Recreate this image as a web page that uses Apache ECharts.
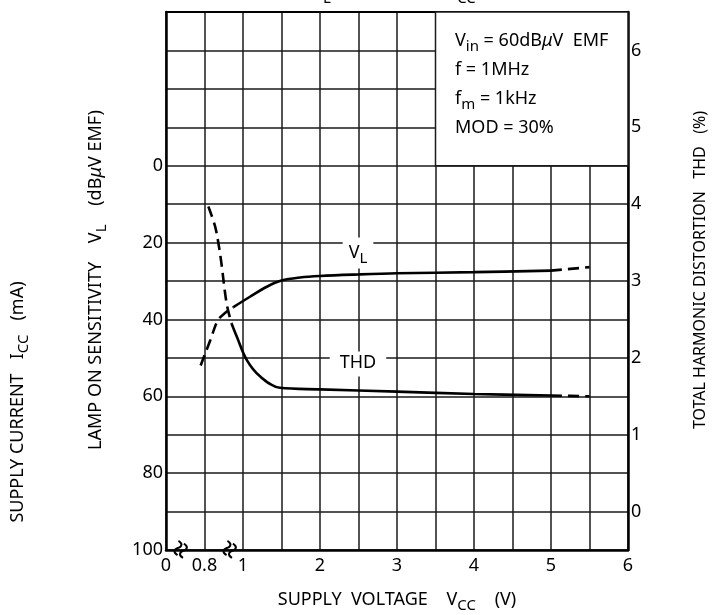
<!DOCTYPE html>
<html><head><meta charset="utf-8">
<script src="https://cdn.jsdelivr.net/npm/echarts@6/dist/echarts.min.js"></script>
<style>html,body{margin:0;padding:0;background:#fff}#c{width:722px;height:615px}</style>
</head><body><div id="c"></div>
<script>
// ---- data ----
const xTickVolts = [0, 0.8, 1, 2, 3, 4, 5, 6];
const xTickText = ['0', '0.8', '1', '2', '3', '4', '5', '6'];
const leftTicks = [0, 20, 40, 60, 80, 100];
const rightTicks = [0, 1, 2, 3, 4, 5, 6];

const vlVolt = [0.78, 0.83, 0.87, 0.91, 0.95, 1.09, 1.31, 1.5, 1.74, 2, 2.5, 3, 4, 5, 5.5];
const vlDb   = [52, 45.4, 40.2, 38.2, 36.8, 34.1, 31.5, 29.9, 29.1, 28.7, 28.3, 28.0, 27.7, 27.3, 26.4];
const vlSolidFrom = 4, vlSolidTo = 13;

const thdVolt = [0.82, 0.855, 0.875, 0.89, 0.905, 0.918, 0.94, 0.967, 1.05, 1.22, 1.48, 2, 3, 4, 5, 5.5];
const thdPct  = [3.97, 3.71, 3.45, 3.19, 2.88, 2.67, 2.45, 2.28, 1.97, 1.76, 1.61, 1.59, 1.56, 1.53, 1.51, 1.5];
const thdSolidFrom = 6, thdSolidTo = 14;

// broken voltage axis: 0 | 0.8 .. 1 (one cell) | 1 .. 6 (two cells per volt)
function xPos(v) {
  if (v === 0) return 0;
  if (v < 1) return 1 + (v - 0.8) / 0.2;
  return 2 + (v - 1) * 2;
}
const xLabelMap = {};
xTickVolts.forEach((v, i) => { xLabelMap[xPos(v)] = xTickText[i]; });

function pts(xs, ys, a, b) {
  const out = [];
  for (let i = a; i <= b; i++) out.push([xPos(xs[i]), ys[i]]);
  return out;
}

const FONT = 'Noto Sans';
const gridLine = { lineStyle: { color: '#1a1a1a', width: 1.5 } };
const curve = (data, dashed, yIdx) => ({
  type: 'line', data, yAxisIndex: yIdx, xAxisIndex: 0, symbol: 'none', smooth: 0.35,
  silent: true, z: 5,
  lineStyle: { color: '#000', width: 2.6, type: dashed ? [11, 6] : 'solid' }
});

const chart = echarts.init(document.getElementById('c'), null, { renderer: 'canvas' });
chart.setOption({
  animation: false,
  backgroundColor: '#fff',
  grid: { left: 166, right: 94, top: 12, bottom: 65 },
  xAxis: [
    { type: 'value', min: 0, max: 12, interval: 1, position: 'bottom',
      axisLine: { show: true, onZero: false, lineStyle: { color: '#000', width: 2.5 } },
      axisTick: { show: false },
      axisLabel: { margin: 7, color: '#000', fontFamily: FONT, fontSize: 18,
        formatter: v => (xLabelMap[v] !== undefined ? xLabelMap[v] : '') },
      splitLine: { show: true, ...gridLine } },
    { type: 'value', min: 0, max: 12, interval: 1, position: 'top',
      axisLine: { show: true, onZero: false, lineStyle: { color: '#000', width: 2 } },
      axisTick: { show: false }, axisLabel: { show: false },
      splitLine: { show: false } }
  ],
  yAxis: [
    { type: 'value', min: -40, max: 100, interval: 10, inverse: true, position: 'left',
      axisLine: { show: true, onZero: false, lineStyle: { color: '#000', width: 2.5 } },
      axisTick: { show: false },
      axisLabel: { margin: 3, color: '#000', fontFamily: FONT, fontSize: 18,
        formatter: v => (leftTicks.indexOf(v) >= 0 ? String(v) : '') },
      splitLine: { show: true, ...gridLine } },
    { type: 'value', min: -0.5, max: 6.5, interval: 0.5, position: 'right',
      axisLine: { show: true, onZero: false, lineStyle: { color: '#000', width: 2.5 } },
      axisTick: { show: false },
      axisLabel: { margin: 3, color: '#000', fontFamily: FONT, fontSize: 18,
        formatter: v => (rightTicks.indexOf(v) >= 0 ? String(v) : '') },
      splitLine: { show: false } }
  ],
  series: [
    { type: 'line', data: [], xAxisIndex: 0, yAxisIndex: 0, silent: true, z: 3,
      markArea: { silent: true,
        itemStyle: { color: '#fff', borderColor: '#1a1a1a', borderWidth: 1.5 },
        data: [[{ coord: [7, -40] }, { coord: [12, 0] }]] } },
    curve(pts(vlVolt, vlDb, 0, vlSolidFrom), true, 0),
    curve(pts(vlVolt, vlDb, vlSolidFrom, vlSolidTo), false, 0),
    curve(pts(vlVolt, vlDb, vlSolidTo, vlVolt.length - 1), true, 0),
    curve(pts(thdVolt, thdPct, 0, thdSolidFrom), true, 1),
    curve(pts(thdVolt, thdPct, thdSolidFrom, thdSolidTo), false, 1),
    curve(pts(thdVolt, thdPct, thdSolidTo, thdVolt.length - 1), true, 1)
  ]
});

const rich = {
  n: { fontFamily: FONT, fontSize: 18, color: '#000', padding: [0, 0, 5, 0], verticalAlign: 'bottom' },
  r: { fontFamily: FONT, fontSize: 16, color: '#000', verticalAlign: 'bottom' },
  s: { fontFamily: FONT, fontSize: 15, color: '#000', verticalAlign: 'bottom' },
  m: { fontFamily: FONT, fontSize: 18, color: '#000', fontStyle: 'italic', padding: [0, 0, 5, 0], verticalAlign: 'bottom' },
  t: { fontFamily: FONT, fontSize: 18, color: '#000', padding: [0, 0, 9, 0], verticalAlign: 'bottom' }
};
function rtext(x, y, text, opts) {
  opts = opts || {};
  return { type: 'text', x, y, rotation: opts.rot || 0, z: 100,
    style: Object.assign({ text, rich, align: opts.align || 'left', verticalAlign: opts.va || 'middle',
      fill: '#000', font: '18px ' + FONT }, opts.style || {}) };
}
function breakMark(x, y) {
  return { type: 'text', x, y, rotation: 1.1, z: 100,
    style: { text: '≈', font: 'bold 30px ' + FONT, fill: '#000', align: 'center', verticalAlign: 'middle' } };
}

chart.setOption({
  graphic: [
    // cut-off title at the very top (only the subscripts peek into view)
    rtext(394, 6, '{t|V}{s|L}{t|,    THD    —    V}{s|CC}', { align: 'center', va: 'bottom' }),
    // conditions box
    rtext(455, 43, '{n|V}{s|in}{n| = 60dB}{m|μ}{n|V  EMF}'),
    rtext(455, 72, '{n|f = 1MHz}'),
    rtext(455, 101, '{n|f}{s|m}{n| = 1kHz}'),
    rtext(455, 130, '{n|MOD = 30%}'),
    // curve labels
    rtext(358, 253, '{n|V}{s|L}', { align: 'center', style: { backgroundColor: '#fff', padding: [6, 6, 2, 6] } }),
    rtext(358, 364, '{n|THD}', { align: 'center', style: { backgroundColor: '#fff', padding: [2, 10, 0, 10] } }),
    // axis titles
    rtext(397, 602, '{n|SUPPLY  VOLTAGE    V}{s|CC}{n|    (V)}', { align: 'center' }),
    rtext(20, 402, '{n|SUPPLY CURRENT   I}{s|CC}{n|   (mA)}', { align: 'center', rot: Math.PI / 2 }),
    rtext(98, 280, '{n|LAMP ON SENSITIVITY    V}{s|L}{n|    (dB}{m|μ}{n|V EMF)}', { align: 'center', rot: Math.PI / 2 }),
    rtext(700, 270, '{r|TOTAL HARMONIC DISTORTION   THD   (%)}', { align: 'center', rot: Math.PI / 2 }),
    // axis break marks
    breakMark(182, 550),
    breakMark(231, 550)
  ]
});
</script>
</body></html>
